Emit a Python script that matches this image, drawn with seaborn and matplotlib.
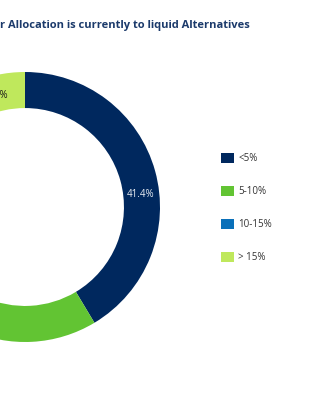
import numpy as np
import matplotlib
matplotlib.use("Agg")
import matplotlib.pyplot as plt
import seaborn as sns

sns.set_theme(style="white")
plt.rcParams['font.family'] = ['Open Sans', 'DejaVu Sans']

categories = ["<5%", "5-10%", "10-15%", "> 15%"]
values = [41.4, 31.0, 13.8, 13.8]
colors = ["#00285e", "#62c433", "#0a70b9", "#bfe85c"]
label_colors = ["#e8ecf2", "#1a1a1a", "#ffffff", "#1a1a1a"]
title = "Majority of Investor Allocation is currently to liquid Alternatives"

W, H = 324, 400
fig = plt.figure(figsize=(W / 100, H / 100), dpi=100)
fig.patch.set_facecolor("white")

cx, cy, R = 25, 207, 135
ax = fig.add_axes([(cx - R) / W, 1 - (cy + R) / H, 2 * R / W, 2 * R / H])

wedges, _ = ax.pie(values, colors=colors, startangle=90, counterclock=False,
                   radius=1, wedgeprops=dict(width=0.267, edgecolor="none"))
ax.set_xlim(-1, 1)
ax.set_ylim(-1, 1)
ax.set_aspect("equal")
ax.axis("off")

# data labels placed along the ring
cum = np.cumsum([0] + values[:-1])
for v, c0, lc in zip(values, cum, label_colors):
    ang = np.deg2rad((c0 + v / 2) / 100 * 360 + 9.5)
    r = 0.86
    ax.text(r * np.sin(ang), r * np.cos(ang), f"{v:.1f}%", ha="center", va="center",
            fontsize=7, color=lc, clip_on=False)

fig.text(250 / W, 1 - 28 / H, title, ha="right", va="baseline", fontsize=8.0,
         fontweight="bold", color="#1b3a6b")

leg = fig.legend(wedges, categories, loc="upper left",
                 bbox_to_anchor=(221 / W, 1 - 153 / H), frameon=False,
                 fontsize=7, handlelength=1.35, handleheight=1.15,
                 handletextpad=0.45, labelspacing=2.25, borderpad=0, borderaxespad=0)
for t in leg.get_texts():
    t.set_color("#333333")

fig.savefig("out.png", dpi=100, facecolor="white")
